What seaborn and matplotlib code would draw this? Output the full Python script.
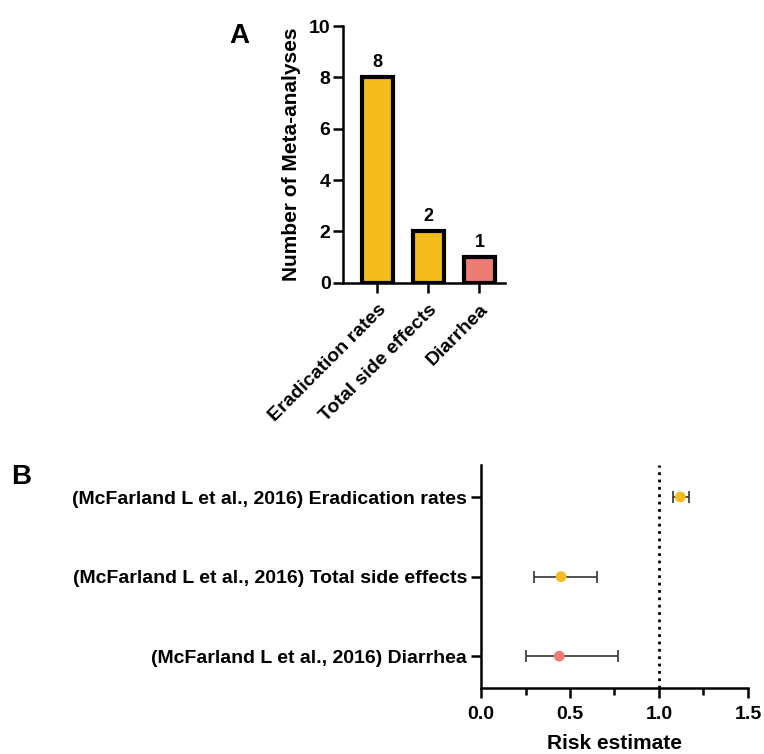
import pandas as pd
import matplotlib
matplotlib.use("Agg")
import matplotlib.pyplot as plt
import seaborn as sns

# Data
outcomes = ["Eradication rates", "Total side effects", "Diarrhea"]
n_meta = [8, 2, 1]
bar_colors = ["#F4BC1D", "#F4BC1D", "#EF7B77"]

study_labels = [
    "(McFarland L et al., 2016) Eradication rates",
    "(McFarland L et al., 2016) Total side effects",
    "(McFarland L et al., 2016) Diarrhea",
]
risk = [1.12, 0.45, 0.44]
ci_low = [1.08, 0.30, 0.25]
ci_high = [1.17, 0.65, 0.77]

sns.set_theme(style="ticks")
plt.rcParams["font.family"] = ["Liberation Sans", "DejaVu Sans"]
plt.rcParams["font.weight"] = "bold"
plt.rcParams["axes.labelweight"] = "bold"
for k in ["text.color", "axes.labelcolor", "xtick.color", "ytick.color", "axes.edgecolor"]:
    plt.rcParams[k] = "black"

fig = plt.figure(figsize=(7.64, 7.54), dpi=100)

# ------------------- Panel A -------------------
axA = fig.add_axes([0.449, 0.625, 0.212, 0.3405])
dfA = pd.DataFrame({"Outcome": outcomes, "Count": n_meta})
sns.barplot(data=dfA, x="Outcome", y="Count", hue="Outcome", palette=bar_colors,
            saturation=1, legend=False, width=0.6, edgecolor="black", linewidth=3,
            ax=axA)
for i, v in enumerate(n_meta):
    axA.text(i, v + 0.25, str(v), ha="center", va="bottom", fontsize=13, fontweight="bold")
axA.set_ylim(0, 10)
axA.set_xlim(-0.67, 2.5)
axA.set_yticks([0, 2, 4, 6, 8, 10])
axA.set_xlabel("")
axA.set_ylabel("Number of Meta-analyses", fontsize=15, fontweight="bold", labelpad=6)
axA.set_xticks(range(len(outcomes)))
axA.set_xticklabels(outcomes, rotation=45, ha="right", rotation_mode="anchor",
                    fontsize=14, fontweight="bold")
axA.tick_params(axis="both", width=1.8, length=7, labelsize=14, pad=2)
axA.tick_params(axis="x", pad=6)
for lbl in axA.get_yticklabels():
    lbl.set_fontweight("bold")
sns.despine(ax=axA)
for s in ["left", "bottom"]:
    axA.spines[s].set_linewidth(1.8)
fig.text(0.30, 0.97, "A", fontsize=20, fontweight="bold", va="top")

# ------------------- Panel B -------------------
axB = fig.add_axes([0.6296, 0.0875, 0.3494, 0.2955])
dfB = pd.DataFrame({"Study": study_labels, "Risk": risk,
                    "Low": ci_low, "High": ci_high})
for i, row in dfB.iterrows():
    axB.errorbar(row["Risk"], i, xerr=[[row["Risk"] - row["Low"]], [row["High"] - row["Risk"]]],
                 fmt="none", ecolor="#333333", elinewidth=1.2, capsize=4, capthick=1.2)
sns.scatterplot(data=dfB, x="Risk", y="Study", hue="Study", palette=bar_colors,
                legend=False, s=60, edgecolor="none", zorder=3, ax=axB)
axB.axvline(1.0, color="black", linestyle=":", linewidth=2)
axB.set_xlim(0, 1.5)
axB.set_ylim(2.4, -0.4)
axB.set_xticks([0, 0.5, 1.0, 1.5])
axB.set_xticklabels(["0.0", "0.5", "1.0", "1.5"], fontsize=14, fontweight="bold")
axB.set_xticks([0.25, 0.75, 1.25], minor=True)
axB.set_yticks(range(len(study_labels)))
axB.set_yticklabels(study_labels, fontsize=14, fontweight="bold")
axB.set_xlabel("Risk estimate", fontsize=15, fontweight="bold", labelpad=8)
axB.set_ylabel("")
axB.tick_params(axis="both", which="major", width=1.8, length=7)
axB.tick_params(axis="x", which="major", pad=6)
axB.tick_params(axis="y", which="major", pad=3)
axB.tick_params(axis="x", which="minor", width=1.8, length=5)
sns.despine(ax=axB)
for s in ["left", "bottom"]:
    axB.spines[s].set_linewidth(1.8)
fig.text(0.015, 0.385, "B", fontsize=20, fontweight="bold", va="top")

fig.savefig("out.png", dpi=100)
